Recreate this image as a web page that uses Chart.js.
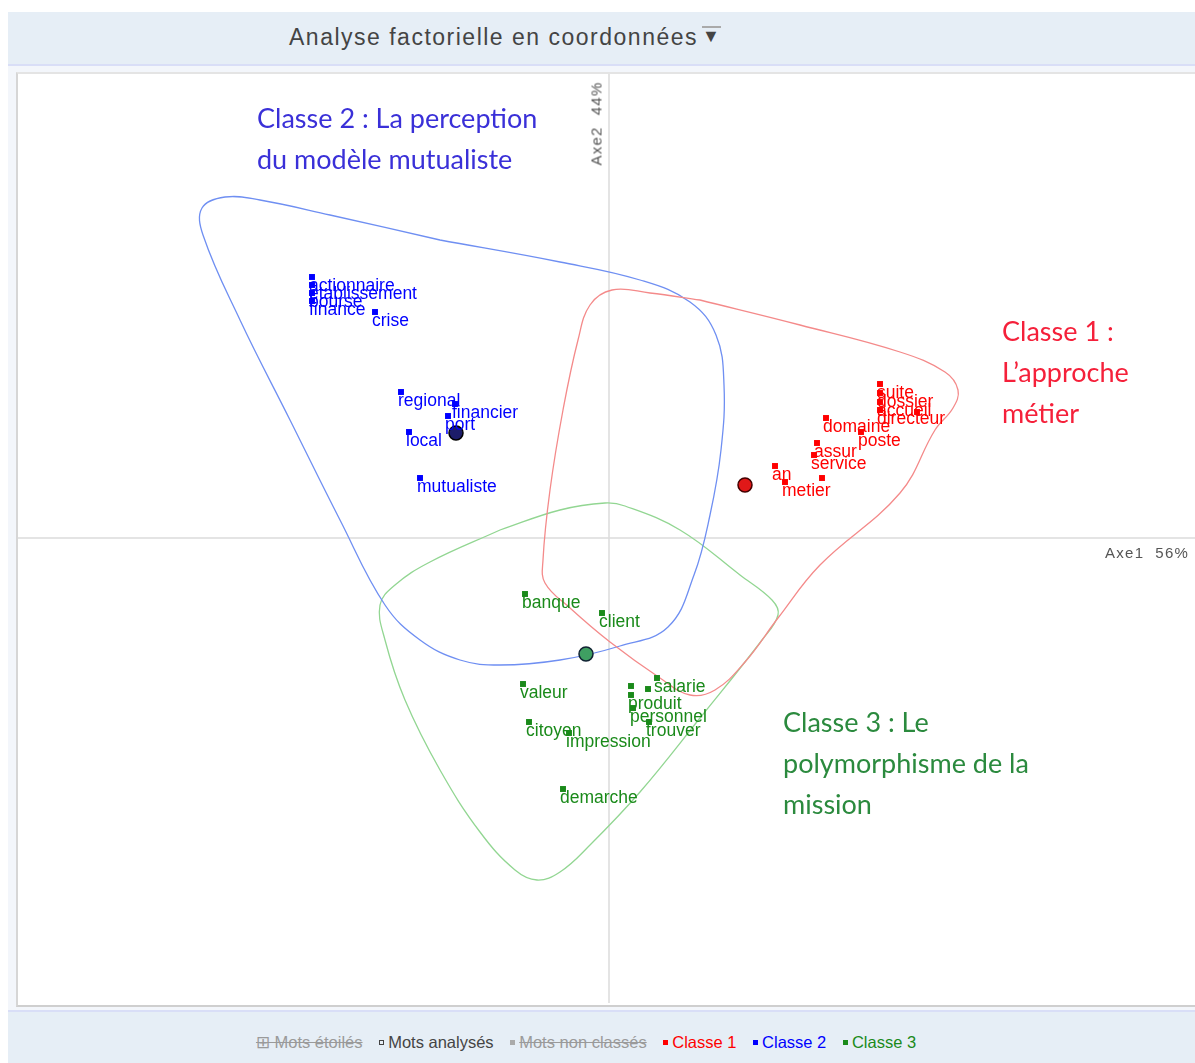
<!DOCTYPE html>
<html>
<head>
<meta charset="utf-8">
<script src="https://cdn.jsdelivr.net/npm/chart.js@4.4.1/dist/chart.umd.min.js"></script>
<style>
  html, body { margin: 0; padding: 0; background: #fff; }
  body { width: 1195px; height: 1063px; position: relative; overflow: hidden; font-family: "Liberation Sans", Arial, sans-serif; }
  .band { position: absolute; left: 8px; width: 1187px; background: #e6eef6; }
  #header { top: 12px; height: 52px; border-bottom: 2px solid #d9def7; }
  #footer { top: 1010px; height: 53px; border-top: 2px solid #d9def7; }
  #middle { position: absolute; left: 8px; top: 66px; width: 1187px; height: 944px; background: #f3f6fb; }
  #frame { position: absolute; left: 16px; top: 72px; width: 1185px; height: 931px; background: #fff;
           border-left: 2px solid #d6d6d6; border-top: 2px solid #e4e4e4; border-bottom: 2px solid #cfcfcf; }
  #title { position: absolute; left: 289px; top: 24px; font-size: 23px; letter-spacing: 1.5px; color: #444; white-space: nowrap; }
  #title .arrow { display: inline-block; font-size: 18px; color: #444; margin-left: 4px; position: relative; top: -3px; border-top: 2px solid #aaa; line-height: 16px; }
  #chartBox { position: absolute; left: 18px; top: 74px; }
  .note { position: absolute; font-family: Lato, "Open Sans", sans-serif; font-size: 27px; line-height: 41px; white-space: nowrap; }
  #note2 { left: 257px; top: 97px; color: #3a30d8; }
  #note1 { left: 1002px; top: 310px; color: #f5203a; }
  #note3 { left: 783px; top: 701px; color: #2b8a3e; }
  .axis { position: absolute; font-size: 15px; letter-spacing: 1.3px; color: #555; white-space: nowrap; }
  #axe1 { left: 1105px; top: 544px; }
  #axe2 { left: 551px; top: 115px; transform: rotate(-90deg); transform-origin: center; width: 90px; text-align: center; }
  #legend { position: absolute; top: 1033px; left: 0; width: 1172px; text-align: center; font-size: 16.5px; white-space: nowrap; }
  #legend span { margin: 0 4px; }
  .off { color: #9a9a9a; text-decoration: line-through; }
  .sq { display: inline-block; width: 5px; height: 5px; margin-right: 2px; vertical-align: middle; position: relative; top: -1px; }
</style>
</head>
<body>
<div class="band" id="header"></div>
<div id="middle"></div>
<div id="frame"></div>
<div class="band" id="footer"></div>
<div id="title">Analyse factorielle en coordonnées<span class="arrow">▼</span></div>
<div id="chartBox"><canvas id="afc" width="1177" height="929"></canvas></div>
<div class="note" id="note2">Classe 2 : La perception<br>du modèle mutualiste</div>
<div class="note" id="note1">Classe 1 :<br>L’approche<br>métier</div>
<div class="note" id="note3">Classe 3 : Le<br>polymorphisme de la<br>mission</div>
<div class="axis" id="axe1">Axe1&nbsp; 56%</div>
<div class="axis" id="axe2">Axe2&nbsp; 44%</div>
<div id="legend">
  <span class="off">⊞ Mots étoilés</span>
  <span style="color:#444"><span class="sq" style="border:1px solid #444;width:3px;height:3px"></span>Mots analysés</span>
  <span class="off"><span class="sq" style="background:#aaa"></span>Mots non classés</span>
  <span style="color:#f00"><span class="sq" style="background:#f00"></span>Classe 1</span>
  <span style="color:#00f"><span class="sq" style="background:#00f"></span>Classe 2</span>
  <span style="color:#1a8a1a"><span class="sq" style="background:#1a8a1a"></span>Classe 3</span>
</div>
<script>
// Words per class (coordinates on Axe1 / Axe2)
var class1Words = ['suite', 'dossier', 'accueil', 'directeur', 'domaine', 'poste', 'assur', 'service', 'an', 'metier', '', ''];
var class1X = [2.71, 2.71, 2.71, 2.71, 2.17, 2.52, 2.08, 2.05, 1.66, 1.76, 3.08, 2.13];
var class1Y = [1.54, 1.45, 1.36, 1.28, 1.20, 1.06, 0.95, 0.83, 0.72, 0.56, 1.26, 0.60];

var class2Words = ['actionnaire', 'etablissement', 'bourse', 'finance', 'crise', 'regional', 'financier', 'port', 'local', 'mutualiste'];
var class2X = [-2.97, -2.97, -2.97, -2.97, -2.34, -2.08, -1.54, -1.61, -2.00, -1.89];
var class2Y = [2.61, 2.53, 2.45, 2.37, 2.26, 1.46, 1.34, 1.22, 1.06, 0.60];

var class3Words = ['banque', 'client', 'valeur', 'salarie', 'produit', 'personnel', 'trouver', 'citoyen', 'impression', 'demarche', '', ''];
var class3X = [-0.84, -0.07, -0.86, 0.48, 0.22, 0.24, 0.40, -0.80, -0.40, -0.46, 0.22, 0.39];
var class3Y = [-0.56, -0.75, -1.46, -1.40, -1.57, -1.70, -1.84, -1.84, -1.95, -2.51, -1.48, -1.51];

// Class centres
var centreX = [1.36, -1.53, -0.23];
var centreY = [0.53, 1.05, -1.16];

// Class envelopes
var hull1X = [0.91, 1.91, 2.91, 3.36, 3.49, 3.44, 3.26, 2.91, 2.11, 1.69, 1.36, 1.06, 0.81, 0.51, 0.01, -0.39, -0.64, -0.66, -0.59, -0.46, -0.31, -0.19, 0.03, 0.41, 0.91];
var hull1Y = [2.38, 2.13, 1.86, 1.66, 1.48, 1.30, 1.08, 0.45, -0.27, -0.80, -1.24, -1.52, -1.57, -1.40, -1.04, -0.70, -0.45, -0.22, 0.48, 1.28, 1.98, 2.33, 2.48, 2.45, 2.38];

var hull2X = [-1.69, -0.49, 0.31, 0.81, 1.07, 1.15, 1.12, 1.01, 0.85, 0.59, 0.11, -0.49, -1.09, -1.49, -1.89, -2.24, -2.69, -3.19, -3.69, -4.06, -4.07, -3.84, -3.49, -2.79, -1.69];
var hull2Y = [2.98, 2.76, 2.58, 2.36, 2.03, 1.53, 0.88, 0.23, -0.37, -0.89, -1.08, -1.22, -1.27, -1.22, -1.02, -0.67, 0.18, 1.18, 2.18, 3.03, 3.30, 3.41, 3.38, 3.23, 2.98];

var hull3X = [-1.09, -0.49, -0.04, 0.16, 0.71, 1.31, 1.63, 1.69, 1.53, 0.91, 0.31, -0.19, -0.49, -0.72, -0.94, -1.29, -1.69, -2.04, -2.24, -2.29, -2.14, -1.79, -1.09];
var hull3Y = [0.08, 0.28, 0.35, 0.32, 0.08, -0.37, -0.62, -0.77, -1.02, -1.80, -2.54, -3.07, -3.34, -3.42, -3.32, -2.94, -2.32, -1.62, -1.02, -0.67, -0.47, -0.24, 0.08];

var classColors = ['#ff0000', '#0000ff', '#1a8a1a'];
var hullColors = ['#f48a8a', '#6f8ff2', '#92d692'];
var centreFill = ['#e01818', '#1c1c6a', '#3f9f62'];

function toPoints(xs, ys) {
  return xs.map(function(x, i) { return { x: x, y: ys[i] }; });
}

// Draw the two factor axes through the origin
var zeroAxes = {
  id: 'zeroAxes',
  beforeDatasetsDraw: function(chart) {
    var ctx = chart.ctx;
    var area = chart.chartArea;
    var x0 = chart.scales.x.getPixelForValue(0);
    var y0 = chart.scales.y.getPixelForValue(0);
    ctx.save();
    ctx.strokeStyle = '#dcdcdc';
    ctx.lineWidth = 1.5;
    ctx.beginPath();
    ctx.moveTo(x0, area.top);
    ctx.lineTo(x0, area.bottom);
    ctx.moveTo(area.left, y0);
    ctx.lineTo(area.right, y0);
    ctx.stroke();
    ctx.restore();
  }
};

// Word labels under each point
var wordLabels = {
  id: 'wordLabels',
  afterDatasetsDraw: function(chart) {
    var ctx = chart.ctx;
    chart.data.datasets.forEach(function(ds, i) {
      if (!ds.words) return;
      var meta = chart.getDatasetMeta(i);
      ctx.save();
      ctx.font = '17.5px "Liberation Sans", Arial, sans-serif';
      ctx.fillStyle = ds.textColor;
      ctx.textBaseline = 'middle';
      meta.data.forEach(function(pt, j) {
        if (!ds.words[j]) return;
        ctx.fillText(ds.words[j], pt.x - 3, pt.y + 9);
      });
      ctx.restore();
    });
  }
};

var datasets = [];
[[hull1X, hull1Y], [hull2X, hull2Y], [hull3X, hull3Y]].forEach(function(h, i) {
  datasets.push({
    data: toPoints(h[0], h[1]),
    showLine: true,
    borderColor: hullColors[i],
    borderWidth: 1.3,
    pointRadius: 0,
    tension: 0.4,
    fill: false,
    order: 3
  });
});
[[class1Words, class1X, class1Y], [class2Words, class2X, class2Y], [class3Words, class3X, class3Y]].forEach(function(c, i) {
  datasets.push({
    data: toPoints(c[1], c[2]),
    words: c[0],
    textColor: classColors[i],
    pointStyle: 'rect',
    pointRadius: 4.2,
    pointBorderWidth: 0,
    backgroundColor: classColors[i],
    borderColor: classColors[i],
    order: 2
  });
});
datasets.push({
  data: toPoints(centreX, centreY),
  pointStyle: 'circle',
  pointRadius: 7,
  pointBorderWidth: 1.5,
  backgroundColor: centreFill,
  borderColor: ['#400', '#000', '#123'],
  order: 1
});

new Chart(document.getElementById('afc'), {
  type: 'scatter',
  data: { datasets: datasets },
  options: {
    responsive: false,
    animation: false,
    devicePixelRatio: 1,
    layout: { padding: 0, autoPadding: false },
    plugins: { legend: { display: false }, tooltip: { enabled: false } },
    scales: {
      x: { type: 'linear', min: -5.91, max: 5.86, display: false },
      y: { type: 'linear', min: -4.65, max: 4.64, display: false }
    }
  },
  plugins: [zeroAxes, wordLabels]
});
</script>
</body>
</html>
